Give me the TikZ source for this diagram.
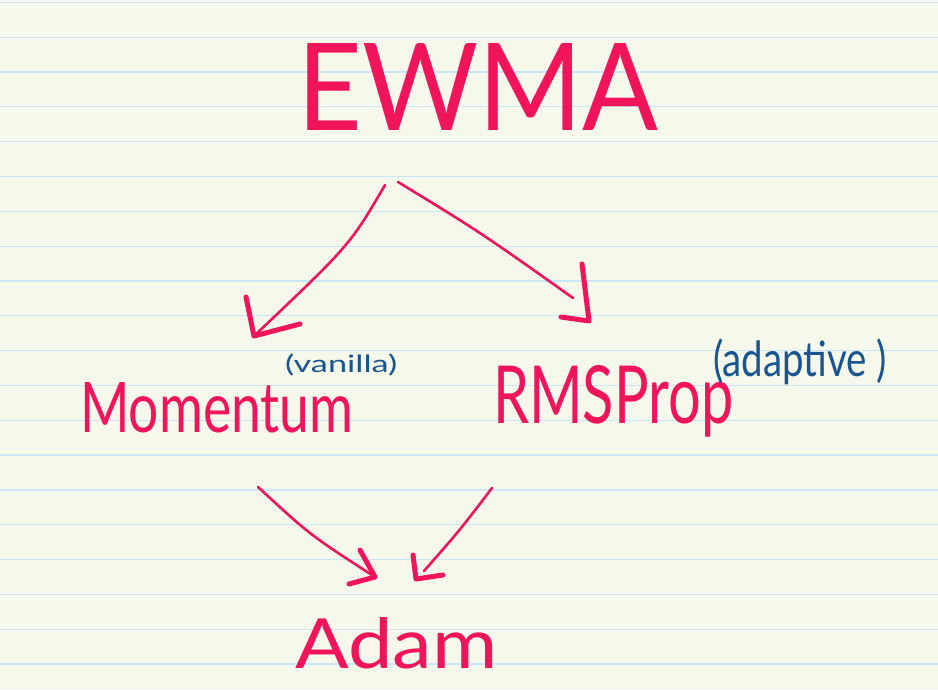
\documentclass[tikz,border=0pt]{standalone}
\usepackage{fontspec}
\setmainfont{Lato}
\usepackage{graphicx}
\definecolor{paper}{RGB}{245,248,235}
\definecolor{ruleblue}{RGB}{200,230,245}
\definecolor{ink}{RGB}{240,20,90}
\definecolor{blueink}{RGB}{25,85,145}
\begin{document}
\begin{tikzpicture}[x=1pt,y=-1pt,
  word/.style={anchor=base west, inner sep=0pt, text=ink},
  note/.style={anchor=south west, inner sep=0pt, text=blueink},
  shaft/.style={draw=ink, line width=2.6pt, line cap=round},
  barb/.style={draw=ink, line width=5pt, line cap=round, line join=round}]
\fill[paper] (0,0) rectangle (938,689);
\useasboundingbox (0,0) rectangle (938,689);
\foreach \k in {0,...,19}
  \draw[ruleblue, line width=1.2pt] (0,{2.3+34.83*\k}) -- (938,{2.3+34.83*\k});

% words
\node[word] (ewma) at (297,130) {\resizebox{361pt}{87pt}{EWMA}};
\node[word] (mom) at (80,432) {\resizebox{273pt}{50pt}{Momentum}};
\node[word] (rms) at (493,423) {\resizebox{240pt}{58pt}{RMSProp}};
\node[word] (adam) at (295,668) {\resizebox{202pt}{51pt}{Adam}};
\node[note] (van) at (285,376) {\resizebox*{112pt}{22pt}{(vanilla)}};
\node[note] (ada) at (713,385) {\resizebox*{174pt}{46pt}{(adaptive )}};

% connector ends
\coordinate (s1) at (385,185); \coordinate (t1) at (254,336);
\coordinate (b1a) at (246,297); \coordinate (b1b) at (300,324);
\coordinate (s2) at (398,182); \coordinate (t2) at (589,321);
\coordinate (e2) at (573,298);
\coordinate (b2a) at (582,264); \coordinate (b2b) at (561,317);
\coordinate (s3) at (258,487); \coordinate (t3) at (375,577);
\coordinate (b3a) at (360,550); \coordinate (b3b) at (349,584);
\coordinate (s4) at (492,488); \coordinate (t4) at (416,579);
\coordinate (e4) at (424,571);
\coordinate (b4a) at (413,555); \coordinate (b4b) at (443,575);

% EWMA -> Momentum
\draw[shaft] (s1) .. controls (350,245) .. (t1);
\draw[barb] (b1a) -- (t1) -- (b1b);
% EWMA -> RMSProp
\draw[shaft] (s2) .. controls (480,232) .. (e2);
\draw[barb] (b2a) -- (t2) -- (b2b);
% Momentum -> Adam
\draw[shaft] (s3) .. controls (310,535) .. (t3);
\draw[barb] (b3a) -- (t3) -- (b3b);
% RMSProp -> Adam
\draw[shaft] (s4) .. controls (460,530) .. (e4);
\draw[barb] (b4a) -- (t4) -- (b4b);
\end{tikzpicture}
\end{document}
